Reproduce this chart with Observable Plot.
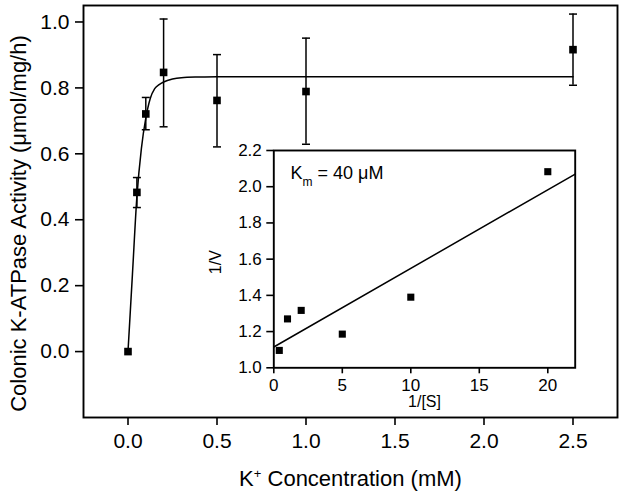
<!DOCTYPE html>
<html><head><meta charset="utf-8">
<script src="https://cdn.jsdelivr.net/npm/d3@7"></script>
<script src="https://cdn.jsdelivr.net/npm/@observablehq/plot@0.6"></script>
<style>
body{margin:0;background:#fff}
#wrap{position:relative;width:624px;height:501px}
#wrap svg{position:absolute;left:0;top:0}
</style>
</head><body><div id="wrap"></div>
<script>
// ---- main chart data ----
const concX = [0, 0.05, 0.1, 0.2, 0.5, 1.0, 2.5];
const activity = [0, 0.483, 0.721, 0.847, 0.762, 0.789, 0.916];
const errLow  = [null, 0.437, 0.673, 0.682, 0.621, 0.629, 0.808];
const errHigh = [null, 0.528, 0.771, 1.009, 0.901, 0.951, 1.024];
const fitX = [0, 0.025, 0.05, 0.075, 0.1, 0.125, 0.15, 0.175, 0.2, 0.25, 0.3, 0.4, 0.5, 1.0, 2.5];
const fitY = [0, 0.235, 0.47, 0.615, 0.708, 0.768, 0.798, 0.81, 0.818, 0.827, 0.831, 0.833, 0.834, 0.834, 0.834];
const xTicks = [0, 0.5, 1.0, 1.5, 2.0, 2.5];
const yTicks = [0, 0.2, 0.4, 0.6, 0.8, 1.0];
const xTitle = "K+ Concentration (mM)";
const yTitle = "Colonic K-ATPase Activity (\u03bcmol/mg/h)";

// ---- inset data ----
const invS = [0.4, 1, 2, 5, 10, 20];
const invV = [1.096, 1.27, 1.317, 1.186, 1.39, 2.083];
const lbX = [0, 22];
const lbY = [1.115, 2.07];
const insetXTicks = [0, 5, 10, 15, 20];
const insetYTicks = [1.0, 1.2, 1.4, 1.6, 1.8, 2.0, 2.2];
const insetXTitle = "1/[S]";
const insetYTitle = "1/V";
const kmLabel = "Km = 40 \u03bcM";

const pts = concX.map((x, i) => ({x, y: activity[i], lo: errLow[i], hi: errHigh[i]}));
const errRows = pts.filter(d => d.lo != null);
const fit = fitX.map((x, i) => ({x, y: fitY[i]}));
const inv = invS.map((x, i) => ({x, y: invV[i]}));
const lb = lbX.map((x, i) => ({x, y: lbY[i]}));

const cap = {draw(ctx) { ctx.moveTo(-4, 0); ctx.lineTo(4, 0); }};
const font = "'Liberation Sans', Arial, sans-serif";
const W = 624, H = 501;

const main = Plot.plot({
  width: W, height: H,
  marginLeft: 83, marginRight: 7, marginTop: 5, marginBottom: 84,
  style: {fontFamily: font, background: "white", color: "black"},
  x: {domain: [-0.25, 2.75]},
  y: {domain: [-0.2, 1.05]},
  marks: [
    Plot.axisX({ticks: xTicks, tickFormat: d3.format(".1f"), tickSize: 8, tickPadding: 8, fontSize: 21, strokeWidth: 1.6, label: null}),
    Plot.axisY({ticks: yTicks, tickFormat: d3.format(".1f"), tickSize: 8, tickPadding: 6, fontSize: 21, strokeWidth: 1.6, label: null}),
    Plot.frame({stroke: "black", strokeWidth: 1.9}),
    Plot.line(fit, {x: "x", y: "y", curve: "monotone-x", strokeWidth: 1.5, stroke: "black"}),
    Plot.ruleX(errRows, {x: "x", y1: "lo", y2: "hi", strokeWidth: 1.5, stroke: "black"}),
    Plot.dot(errRows, {x: "x", y: "lo", symbol: cap, fill: "none", stroke: "black", strokeWidth: 1.5}),
    Plot.dot(errRows, {x: "x", y: "hi", symbol: cap, fill: "none", stroke: "black", strokeWidth: 1.5}),
    Plot.dot(pts, {x: "x", y: "y", symbol: "square", r: 4.3, fill: "black"}),
    Plot.text([xTitle], {frameAnchor: "bottom", textAnchor: "middle", dy: 68, fontSize: 22, fill: "black"}),
    Plot.text([yTitle], {frameAnchor: "left", textAnchor: "middle", dx: -65, dy: 12, rotate: -90, fontSize: 22, fill: "black"})
  ]
});

const inset = Plot.plot({
  width: W, height: H,
  marginLeft: 273.3, marginRight: 49.3, marginTop: 150, marginBottom: 133.7,
  style: {fontFamily: font, background: "transparent", color: "black"},
  x: {domain: [0, 22]},
  y: {domain: [1.0, 2.2]},
  marks: [
    Plot.axisX({ticks: insetXTicks, tickSize: 6, tickPadding: 5, fontSize: 17, strokeWidth: 1.6, label: null}),
    Plot.axisY({ticks: insetYTicks, tickFormat: d3.format(".1f"), tickSize: 7, tickPadding: 5, fontSize: 17, strokeWidth: 1.6, label: null}),
    Plot.frame({stroke: "black", strokeWidth: 1.9}),
    Plot.line(lb, {x: "x", y: "y", strokeWidth: 1.5, stroke: "black"}),
    Plot.dot(inv, {x: "x", y: "y", symbol: "square", r: 4, fill: "black"}),
    Plot.text([insetXTitle], {frameAnchor: "bottom", textAnchor: "middle", dy: 39.5, fontSize: 16, fill: "black"}),
    Plot.text([insetYTitle], {frameAnchor: "left", textAnchor: "middle", dx: -58, dy: 3, rotate: -90, fontSize: 16, fill: "black"}),
    Plot.text([kmLabel], {frameAnchor: "top-left", dx: 16.7, dy: 23, textAnchor: "start", lineAnchor: "middle", fontSize: 18, fill: "black"})
  ]
});

const wrap = document.getElementById("wrap");
wrap.appendChild(main);
wrap.appendChild(inset);

// superscript / subscript formatting on the real text nodes
for (const t of wrap.querySelectorAll("text")) {
  if (t.textContent === xTitle) {
    t.innerHTML = 'K<tspan dy="-8" font-size="13">+</tspan><tspan dy="8"> Concentration (mM)</tspan>';
  } else if (t.textContent === kmLabel) {
    t.innerHTML = 'K<tspan dy="7" font-size="12">m</tspan><tspan dy="-7"> = 40 \u03bcM</tspan>';
  }
}
</script></body></html>
